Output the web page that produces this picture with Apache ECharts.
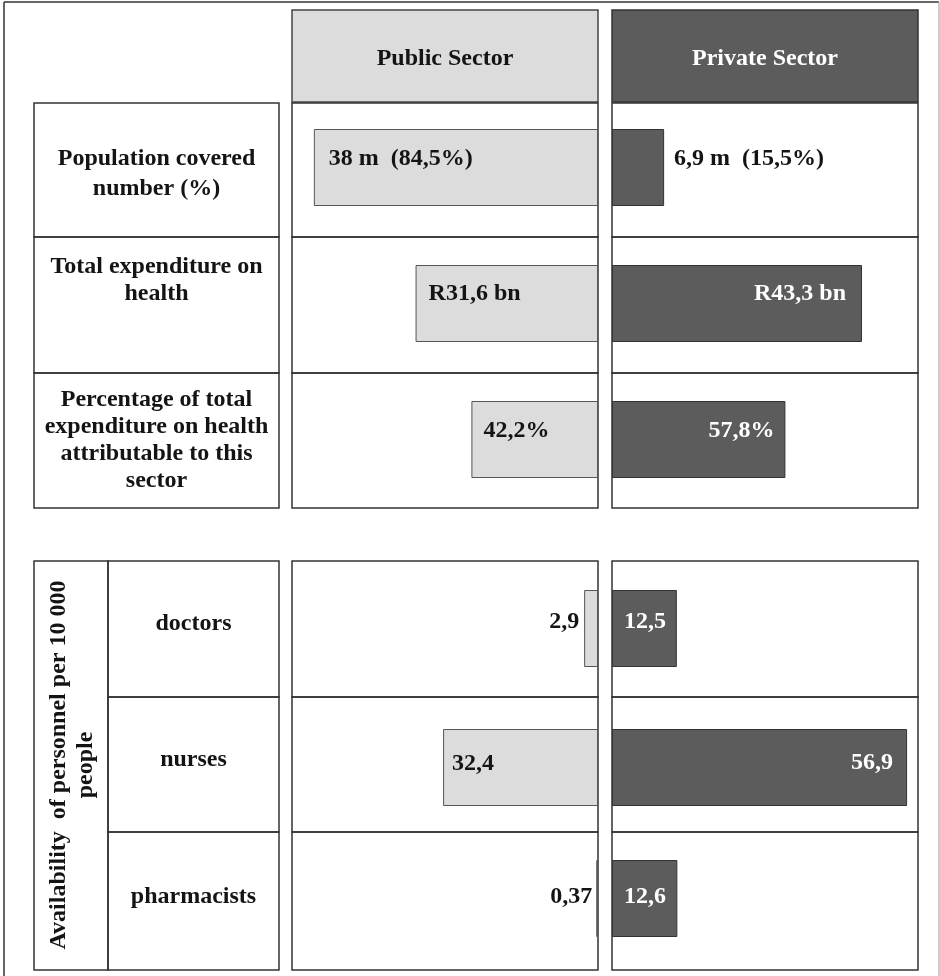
<!DOCTYPE html>
<html><head><meta charset="utf-8">
<script src="https://cdn.jsdelivr.net/npm/echarts@6/dist/echarts.min.js"></script>
<style>html,body{margin:0;padding:0;background:#fff}#c{width:940px;height:976px}</style>
</head><body><div id="c"></div>
<script>
// ---- data ----
const sectors = ['Public Sector', 'Private Sector'];
const financeRows = ['Population covered\nnumber (%)', 'Total expenditure on\nhealth', 'Percentage of total\nexpenditure on health\nattributable to this\nsector'];
const publicFinance = [84.5, 31.6, 42.2];
const privateFinance = [15.5, 43.3, 57.8];
const publicFinanceLabels = ['38 m  (84,5%)', 'R31,6 bn', '42,2%'];
const privateFinanceLabels = ['6,9 m  (15,5%)', 'R43,3 bn', '57,8%'];
const staffGroupTitle = 'Availability  of personnel per 10 000\npeople';
const staffRows = ['doctors', 'nurses', 'pharmacists'];
const publicStaff = [2.9, 32.4, 0.37];
const privateStaff = [12.5, 56.9, 12.6];

// ---- layout / style ----
const FONT = '"Liberation Serif", "Times New Roman", serif';
const FS = 24;
const DARK = '#141414';
const PUB = {x: 292, w: 306}, PRIV = {x: 612, w: 306};
const topRowsY = [103, 237, 373, 508];
const botRowsY = [561, 697, 832, 970];
const topBarY = [129, 265, 401];
const botBarY = [590, 729, 860];
const BAR_H = 77;
const financeMax = [91, 53, 102];
const staffMax = {pub: 64, priv: 59};
const pubFill = '#dcdcdc', privFill = '#5c5c5c';

const finPubLab = [{p:'insideLeft',d:15,dy:-9,c:DARK},{p:'insideLeft',d:13,dy:-10,c:DARK},{p:'insideLeft',d:12,dy:-9,c:DARK}];
const finPrivLab = [{p:'right',d:10,dy:-9,c:DARK},{p:'insideRight',d:16,dy:-10,c:'#fff'},{p:'insideRight',d:11,dy:-9,c:'#fff'}];
const stPubLab = [{p:'left',d:5,dy:-7,c:DARK},{p:'insideLeft',d:9,dy:-4,c:DARK},{p:'left',d:4,dy:-2,c:DARK}];
const stPrivLab = [{p:'insideLeft',d:12,dy:-7,c:'#fff'},{p:'insideRight',d:14,dy:-5,c:'#fff'},{p:'insideLeft',d:12,dy:-2,c:'#fff'}];

const grids = [], xAxes = [], yAxes = [], series = [];
function addCell(panel, barY, max, inverse, value, text, lab, fill, border) {
  const i = grids.length;
  grids.push({left: panel.x, top: barY, width: panel.w, height: BAR_H});
  xAxes.push({type: 'value', gridIndex: i, min: 0, max: max, inverse: inverse, show: false});
  yAxes.push({type: 'category', gridIndex: i, data: [''], show: false});
  series.push({
    type: 'bar', xAxisIndex: i, yAxisIndex: i, barWidth: '100%', silent: true, animation: false,
    itemStyle: {color: fill, borderColor: border, borderWidth: 1},
    label: {show: true, position: lab.p, distance: lab.d, offset: [0, lab.dy], color: lab.c,
      fontFamily: FONT, fontWeight: 'bold', fontSize: FS, formatter: () => text},
    data: [value]
  });
}
for (let r = 0; r < 3; r++) {
  addCell(PUB, topBarY[r], financeMax[r], true, publicFinance[r], publicFinanceLabels[r], finPubLab[r], pubFill, '#555');
  addCell(PRIV, topBarY[r], financeMax[r], false, privateFinance[r], privateFinanceLabels[r], finPrivLab[r], privFill, '#333');
  addCell(PUB, botBarY[r], staffMax.pub, true, publicStaff[r], String(publicStaff[r]).replace('.', ','), stPubLab[r], pubFill, '#555');
  addCell(PRIV, botBarY[r], staffMax.priv, false, privateStaff[r], String(privateStaff[r]).replace('.', ','), stPrivLab[r], privFill, '#333');
}

// ---- frame / boxes ----
const G = [];
function rect(x, y, w, h, fill, stroke, z) {
  G.push({type: 'rect', z: z || 0, silent: true, shape: {x, y, width: w, height: h},
    style: {fill: fill || 'none', stroke: stroke || '#333', lineWidth: 1.5}});
}
function line(x1, y1, x2, y2, stroke, lw) {
  G.push({type: 'line', silent: true, shape: {x1, y1, x2, y2}, style: {stroke, lineWidth: lw || 1.5}});
}
function text(t, x, y, color, lh, rot) {
  G.push({type: 'text', silent: true, z: 10, x, y, rotation: rot || 0,
    style: {text: t, fill: color, font: 'bold ' + FS + 'px ' + FONT, align: 'center', verticalAlign: 'middle', lineHeight: lh || 27}});
}
line(4, 2, 939, 2, '#333', 1.5);
line(4, 2, 4, 976, '#333', 1.5);
line(939, 2, 939, 976, '#bbb', 1.5);

rect(PUB.x, 10, PUB.w, 92, pubFill, '#444');
rect(PRIV.x, 10, PRIV.w, 92, privFill, '#333');
text(sectors[0], PUB.x + PUB.w / 2, 59, DARK);
text(sectors[1], PRIV.x + PRIV.w / 2, 59, '#fff');

const finTextY = [174, 280.5, 440.5];
const finLH = [30, 27, 27];
for (let r = 0; r < 3; r++) {
  const y0 = topRowsY[r], h = topRowsY[r + 1] - y0;
  rect(34, y0, 245, h);
  rect(PUB.x, y0, PUB.w, h);
  rect(PRIV.x, y0, PRIV.w, h);
  text(financeRows[r], 156.5, finTextY[r], DARK, finLH[r]);
}
rect(34, botRowsY[0], 74, botRowsY[3] - botRowsY[0]);
const staffTextY = [624, 760, 897];
for (let r = 0; r < 3; r++) {
  const y0 = botRowsY[r], h = botRowsY[r + 1] - y0;
  rect(108, y0, 171, h);
  rect(PUB.x, y0, PUB.w, h);
  rect(PRIV.x, y0, PRIV.w, h);
  text(staffRows[r], 193.5, staffTextY[r], DARK);
}
text(staffGroupTitle, 72, 765, DARK, 27, Math.PI / 2);

const chart = echarts.init(document.getElementById('c'), null, {renderer: 'canvas'});
chart.setOption({
  animation: false,
  backgroundColor: '#fff',
  grid: grids, xAxis: xAxes, yAxis: yAxes, series: series,
  graphic: {elements: G}
});
</script></body></html>
